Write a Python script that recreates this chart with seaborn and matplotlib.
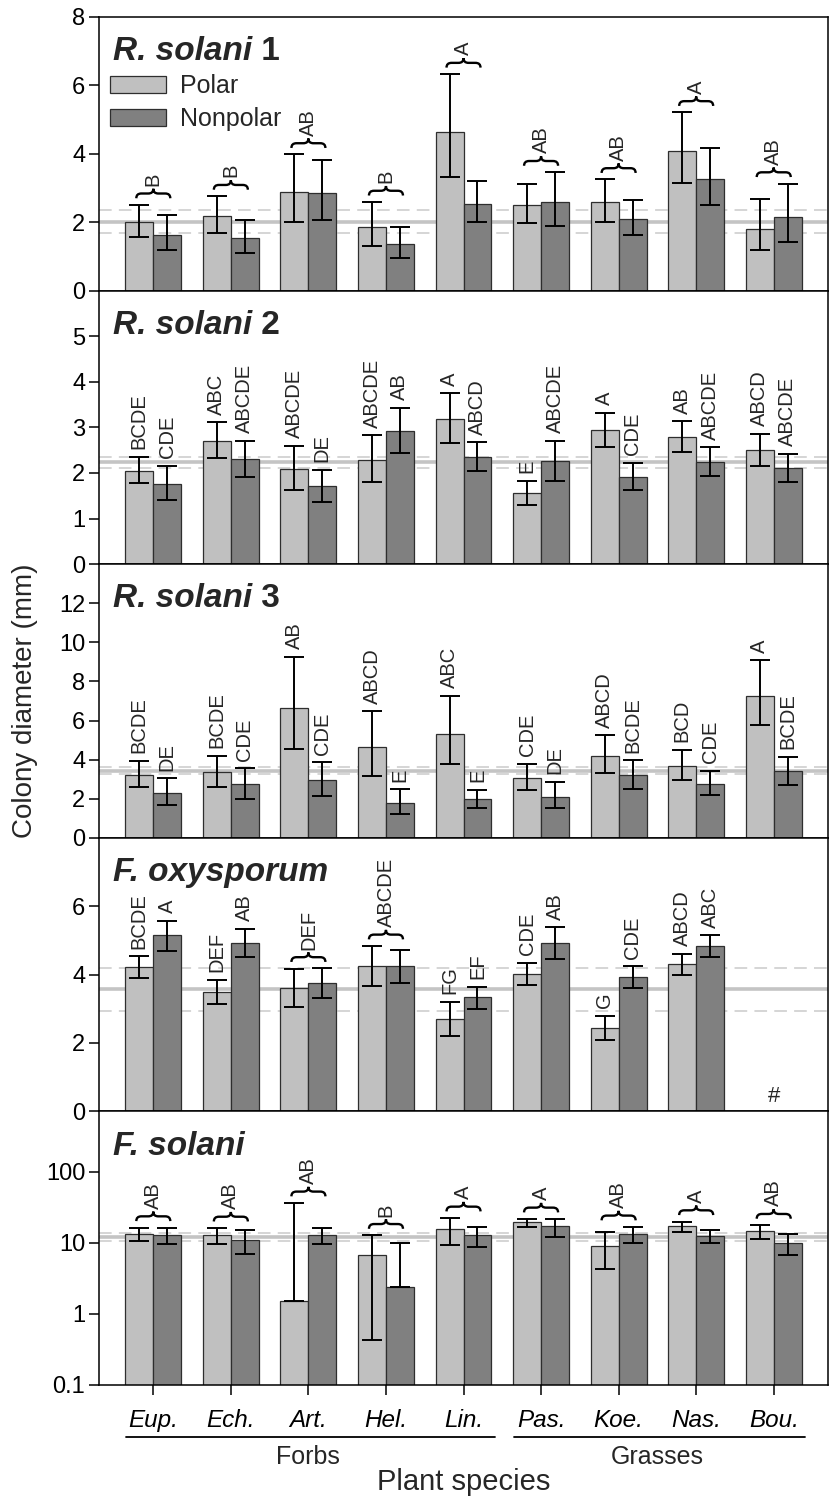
import numpy as np
import pandas as pd
import matplotlib
matplotlib.use("Agg")
import matplotlib.pyplot as plt
import seaborn as sns
from matplotlib.path import Path
from matplotlib.patches import PathPatch
from matplotlib.transforms import ScaledTranslation
from matplotlib.ticker import NullLocator, FixedLocator, FixedFormatter

# ---------------- data ----------------
species = ["Eup.", "Ech.", "Art.", "Hel.", "Lin.", "Pas.", "Koe.", "Nas.", "Bou."]
groups = ["Polar", "Nonpolar"]
plant_groups = ["Forbs", "Grasses"]
plant_group_sizes = [5, 4]

# R. solani 1
rs1_polar = [2.01, 2.17, 2.87, 1.86, 4.64, 2.50, 2.58, 4.08, 1.80]
rs1_polar_hi = [2.51, 2.76, 3.98, 2.59, 6.33, 3.13, 3.25, 5.21, 2.67]
rs1_polar_lo = [1.57, 1.67, 2.01, 1.30, 3.31, 1.98, 2.01, 3.15, 1.18]
rs1_nonpolar = [1.64, 1.53, 2.85, 1.36, 2.54, 2.59, 2.09, 3.25, 2.15]
rs1_nonpolar_hi = [2.20, 2.05, 3.81, 1.87, 3.20, 3.46, 2.65, 4.16, 3.13]
rs1_nonpolar_lo = [1.20, 1.10, 2.05, 0.95, 2.00, 1.90, 1.62, 2.50, 1.42]
rs1_ref = [2.02, 1.67, 2.37]
rs1_letters_polar = ["B", "B", "AB", "B", "A", "AB", "AB", "A", "AB"]
rs1_letters_nonpolar = [None] * 9

# R. solani 2
rs2_polar = [2.05, 2.70, 2.09, 2.28, 3.19, 1.56, 2.94, 2.80, 2.51]
rs2_polar_hi = [2.36, 3.11, 2.60, 2.83, 3.75, 1.83, 3.32, 3.13, 2.86]
rs2_polar_lo = [1.77, 2.32, 1.63, 1.81, 2.65, 1.30, 2.56, 2.45, 2.16]
rs2_nonpolar = [1.76, 2.31, 1.71, 2.92, 2.35, 2.26, 1.91, 2.24, 2.10]
rs2_nonpolar_hi = [2.16, 2.71, 2.07, 3.43, 2.67, 2.71, 2.23, 2.56, 2.42]
rs2_nonpolar_lo = [1.40, 1.92, 1.36, 2.44, 2.04, 1.82, 1.62, 1.93, 1.81]
rs2_ref = [2.24, 2.12, 2.36]
rs2_letters_polar = ["BCDE", "ABC", "ABCDE", "ABCDE", "A", "E", "A", "AB", "ABCD"]
rs2_letters_nonpolar = ["CDE", "ABCDE", "DE", "AB", "ABCD", "ABCDE", "CDE", "ABCDE", "ABCDE"]

# R. solani 3
rs3_polar = [3.21, 3.35, 6.62, 4.63, 5.29, 3.08, 4.20, 3.67, 7.28]
rs3_polar_hi = [3.95, 4.20, 9.27, 6.48, 7.28, 3.78, 5.24, 4.49, 9.08]
rs3_polar_lo = [2.59, 2.62, 4.54, 3.18, 3.76, 2.47, 3.32, 2.94, 5.78]
rs3_nonpolar = [2.28, 2.74, 2.94, 1.80, 1.97, 2.09, 3.20, 2.76, 3.40]
rs3_nonpolar_hi = [3.04, 3.55, 3.86, 2.48, 2.47, 2.87, 3.96, 3.42, 4.13]
rs3_nonpolar_lo = [1.67, 2.01, 2.16, 1.24, 1.55, 1.50, 2.52, 2.18, 2.70]
rs3_ref = [3.42, 3.25, 3.61]
rs3_letters_polar = ["BCDE", "BCDE", "AB", "ABCD", "ABC", "CDE", "ABCD", "BCD", "A"]
rs3_letters_nonpolar = ["DE", "CDE", "CDE", "E", "E", "DE", "BCDE", "CDE", "BCDE"]

# F. oxysporum (no data for Bou.)
fo_polar = [4.22, 3.49, 3.61, 4.26, 2.70, 4.02, 2.43, 4.31, np.nan]
fo_polar_hi = [4.53, 3.85, 4.16, 4.84, 3.21, 4.34, 2.79, 4.61, np.nan]
fo_polar_lo = [3.90, 3.13, 3.06, 3.66, 2.19, 3.70, 2.10, 3.99, np.nan]
fo_nonpolar = [5.15, 4.93, 3.74, 4.24, 3.34, 4.93, 3.93, 4.84, np.nan]
fo_nonpolar_hi = [5.58, 5.34, 4.18, 4.73, 3.65, 5.38, 4.24, 5.15, np.nan]
fo_nonpolar_lo = [4.70, 4.50, 3.32, 3.76, 3.00, 4.46, 3.60, 4.50, np.nan]
fo_ref = [3.58, 2.94, 4.20]
fo_letters_polar = ["BCDE", "DEF", "DEF", "ABCDE", "FG", "CDE", "G", "ABCD", "#"]
fo_letters_nonpolar = ["A", "AB", None, None, "EF", "AB", "CDE", "ABC", None]

# F. solani (log scale)
fs_polar = [13.4, 13.0, 1.53, 6.7, 15.8, 19.4, 9.1, 17.1, 14.8]
fs_polar_hi = [16.1, 16.1, 36.3, 12.7, 22.3, 21.6, 14.2, 19.8, 17.6]
fs_polar_lo = [10.5, 9.7, np.nan, 0.43, 9.3, 16.5, 4.3, 14.2, 11.4]
fs_nonpolar = [13.0, 10.9, 13.0, 2.42, 12.7, 17.1, 13.3, 12.6, 10.0]
fs_nonpolar_hi = [16.3, 15.0, 16.1, 10.0, 16.7, 21.4, 16.7, 15.1, 13.3]
fs_nonpolar_lo = [9.5, 6.9, 9.7, np.nan, 8.7, 11.9, 10.0, 10.0, 6.8]
fs_ref = [12.2, 10.6, 13.7]
fs_letters_polar = ["AB", "AB", "AB", "B", "A", "A", "AB", "A", "AB"]
fs_letters_nonpolar = [None] * 9

panels = [
    dict(title="R. solani", suffix=" 1", p=rs1_polar, ph=rs1_polar_hi, pl=rs1_polar_lo,
         n=rs1_nonpolar, nh=rs1_nonpolar_hi, nl=rs1_nonpolar_lo, ref=rs1_ref,
         lp=rs1_letters_polar, ln=rs1_letters_nonpolar),
    dict(title="R. solani", suffix=" 2", p=rs2_polar, ph=rs2_polar_hi, pl=rs2_polar_lo,
         n=rs2_nonpolar, nh=rs2_nonpolar_hi, nl=rs2_nonpolar_lo, ref=rs2_ref,
         lp=rs2_letters_polar, ln=rs2_letters_nonpolar),
    dict(title="R. solani", suffix=" 3", p=rs3_polar, ph=rs3_polar_hi, pl=rs3_polar_lo,
         n=rs3_nonpolar, nh=rs3_nonpolar_hi, nl=rs3_nonpolar_lo, ref=rs3_ref,
         lp=rs3_letters_polar, ln=rs3_letters_nonpolar),
    dict(title="F. oxysporum", suffix="", p=fo_polar, ph=fo_polar_hi, pl=fo_polar_lo,
         n=fo_nonpolar, nh=fo_nonpolar_hi, nl=fo_nonpolar_lo, ref=fo_ref,
         lp=fo_letters_polar, ln=fo_letters_nonpolar),
    dict(title="F. solani", suffix="", p=fs_polar, ph=fs_polar_hi, pl=fs_polar_lo,
         n=fs_nonpolar, nh=fs_nonpolar_hi, nl=fs_nonpolar_lo, ref=fs_ref,
         lp=fs_letters_polar, ln=fs_letters_nonpolar),
]

ylims = [(0, 8), (0, 6), (0, 14), (0, 8), (0.1, 700)]
yticks = [[0, 2, 4, 6, 8], [0, 1, 2, 3, 4, 5], [0, 2, 4, 6, 8, 10, 12], [0, 2, 4, 6],
          [0.1, 1, 10, 100]]

# ---------------- style ----------------
sns.set_style("ticks")
plt.rcParams["font.family"] = ["Liberation Sans", "DejaVu Sans"]
plt.rcParams["axes.linewidth"] = 1.1
plt.rcParams["axes.edgecolor"] = "black"

palette = {"Polar": "#c0c0c0", "Nonpolar": "#808080"}
BAR_W = 0.72
offsets = {"Polar": -BAR_W / 4, "Nonpolar": BAR_W / 4}

fig, axes = plt.subplots(5, 1, figsize=(8.3, 15), dpi=100, sharex=True)
fig.subplots_adjust(left=0.1193, right=0.9976, top=0.98867, bottom=0.07667, hspace=0)


def draw_brace(ax, xc, ytop, w_in=0.34, off_in=0.065, h_in=0.095):
    hw = w_in / 2
    y0, ym, y1 = off_in, off_in + h_in / 2, off_in + h_in
    q = 0.05
    verts = [(-hw, y0), (-hw, ym), (-hw + q, ym), (-q, ym), (0, ym), (0, y1),
             (0, ym), (q, ym), (hw - q, ym), (hw, ym), (hw, y0)]
    codes = [Path.MOVETO, Path.CURVE3, Path.CURVE3, Path.LINETO, Path.CURVE3, Path.CURVE3,
             Path.CURVE3, Path.CURVE3, Path.LINETO, Path.CURVE3, Path.CURVE3]
    tr = fig.dpi_scale_trans + ScaledTranslation(xc, ytop, ax.transData)
    ax.add_patch(PathPatch(Path(verts, codes), fill=False, lw=1.7, ec="black",
                           transform=tr, clip_on=False, zorder=4))
    return (off_in + h_in) * 72 + 2.0


for k, (ax, pn) in enumerate(zip(axes, panels)):
    if k == 4:
        ax.set_yscale("log")
    df = pd.DataFrame({
        "species": species * 2,
        "group": ["Polar"] * len(species) + ["Nonpolar"] * len(species),
        "value": list(pn["p"]) + list(pn["n"]),
    })
    sns.barplot(data=df, x="species", y="value", hue="group", order=species,
                hue_order=groups, palette=palette, saturation=1, width=BAR_W,
                errorbar=None, edgecolor="#2e2e2e", linewidth=0.9, ax=ax,
                legend=(k == 0), zorder=1)

    # reference lines
    ax.axhline(pn["ref"][0], color="#c4c4c4", lw=2.6, zorder=0.5)
    for v in pn["ref"][1:]:
        ax.axhline(v, color="#d2d2d2", lw=1.3, ls=(0, (7, 4)), zorder=0.5)

    # error bars
    for g, m, hi, lo in (("Polar", pn["p"], pn["ph"], pn["pl"]),
                         ("Nonpolar", pn["n"], pn["nh"], pn["nl"])):
        m = np.asarray(m, float); hi = np.asarray(hi, float); lo = np.asarray(lo, float)
        x = np.arange(len(species)) + offsets[g]
        low_err = np.where(np.isnan(lo), 0.0, m - lo)
        ax.errorbar(x, m, yerr=[low_err, hi - m], fmt="none", ecolor="black",
                    elinewidth=1.4, capsize=7.2, capthick=1.4, zorder=3)

    # letters
    for i in range(len(species)):
        lp, ln = pn["lp"][i], pn["ln"][i]
        php, phn = pn["ph"][i], pn["nh"][i]
        if lp == "#":
            ax.annotate("#", xy=(i, ylims[k][0]), xytext=(0, 3), textcoords="offset points",
                        ha="center", va="bottom", fontsize=16)
            continue
        if lp is not None and ln is None:
            top = np.nanmax([php, phn])
            off = draw_brace(ax, i, top)
            ax.annotate(lp, xy=(i, top), xytext=(0, off), textcoords="offset points",
                        rotation=90, ha="center", va="bottom", fontsize=14.5)
        else:
            for s, h, g in ((lp, php, "Polar"), (ln, phn, "Nonpolar")):
                if s:
                    ax.annotate(s, xy=(i + offsets[g], h), xytext=(0, 5.5),
                                textcoords="offset points", rotation=90,
                                ha="center", va="bottom", fontsize=14.5)

    # title
    t = ax.text(0.019, 0.93, pn["title"], transform=ax.transAxes, fontsize=24,
                fontweight="bold", fontstyle="italic", va="top", ha="left")
    if pn["suffix"]:
        ax.annotate(pn["suffix"], xy=(1, 0), xycoords=t, va="bottom", ha="left",
                    fontsize=24, fontweight="bold")

    ax.set_xlim(-0.7, len(species) - 0.3)
    ax.set_ylim(*ylims[k])
    ax.yaxis.set_major_locator(FixedLocator(yticks[k]))
    ax.yaxis.set_major_formatter(FixedFormatter([f"{v:g}" for v in yticks[k]]))
    ax.yaxis.set_minor_locator(NullLocator())
    ax.tick_params(axis="y", direction="out", length=7, width=1.1, labelsize=17,
                   colors="black", pad=3)
    ax.set_xlabel("")
    ax.set_ylabel("")
    for sp in ax.spines.values():
        sp.set_visible(True)
        sp.set_color("black")
        sp.set_linewidth(1.1)
    if k < 4:
        ax.tick_params(axis="x", length=0, labelbottom=False)

    if k == 0:
        handles, labels = ax.get_legend_handles_labels()
        ax.legend(handles, labels, loc="upper left", bbox_to_anchor=(0.015, 0.79),
                  frameon=False, fontsize=18, handlelength=2.25, handleheight=0.65,
                  handletextpad=0.55, labelspacing=0.35, borderpad=0, borderaxespad=0)

# bottom axis
axb = axes[-1]
axb.set_xticks(range(len(species)))
axb.set_xticklabels(species, fontstyle="italic", fontsize=17.5)
axb.tick_params(axis="x", direction="out", length=7, width=1.1, pad=10, colors="black")

start = 0
tr = axb.get_xaxis_transform()
for name, size in zip(plant_groups, plant_group_sizes):
    first, last = start, start + size - 1
    axb.plot([first - 0.35, last + 0.4], [-0.19, -0.19], color="black", lw=1.3,
             transform=tr, clip_on=False)
    axb.text((first + last) / 2, -0.265, name, transform=tr, ha="center", va="center",
             fontsize=18)
    start += size

axb.text((len(species) - 1) / 2, -0.355, "Plant species", transform=tr, ha="center",
         va="center", fontsize=21)

fig.text(0.03, (0.98867 + 0.07667) / 2, "Colony diameter (mm)", rotation=90,
         ha="center", va="center", fontsize=20)

fig.savefig("out.png", dpi=100)
